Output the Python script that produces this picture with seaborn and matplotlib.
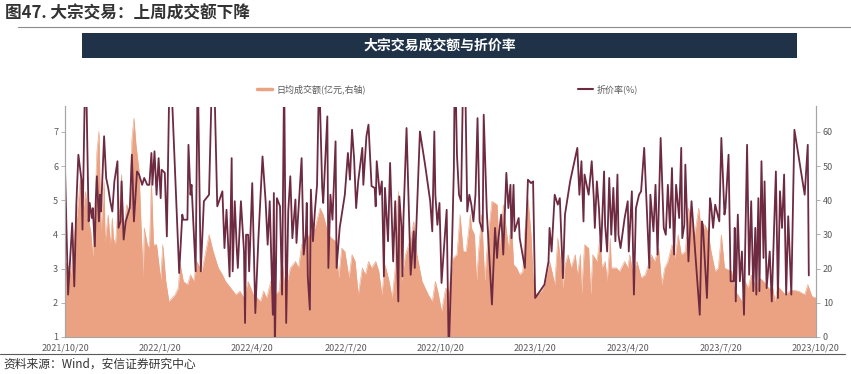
import matplotlib

matplotlib.use("Agg")
import matplotlib.pyplot as plt
from matplotlib.lines import Line2D
from matplotlib.patches import Rectangle
import pandas as pd
import seaborn as sns

# ---- data ----
start_date = "2021-10-20"

# discount rate (%), left axis; day = calendar days after start_date
line_day = [
    0, 3, 7, 9, 11, 13, 16, 17, 20, 23, 24, 26, 27, 29, 30, 31, 33, 34, 35, 38,
    40, 42, 44, 46, 48, 51, 52, 54, 55, 57, 59, 60, 63, 65, 67, 70, 72, 75, 77, 80,
    82, 84, 85, 87, 89, 91, 93, 94, 97, 99, 102, 107, 111, 114, 115, 119, 120, 122, 123, 127,
    129, 131, 132, 135, 140, 144, 148, 153, 155, 157, 160, 162, 163, 165, 167, 168, 171, 174, 175, 176,
    178, 179, 182, 185, 188, 190, 192, 195, 197, 199, 202, 203, 204, 206, 209, 211, 213, 215, 217, 219,
    221, 224, 225, 230, 232, 234, 235, 236, 238, 239, 241, 243, 245, 247, 250, 251, 255, 256, 258, 260,
    263, 264, 267, 272, 275, 277, 279, 281, 283, 285, 289, 290, 293, 295, 298, 301, 302, 303, 306, 308,
    310, 311, 314, 316, 319, 321, 324, 325, 327, 328, 329, 332, 336, 339, 340, 345, 350, 355, 357, 359,
    360, 362, 364, 366, 371, 373, 376, 378, 379, 381, 383, 385, 388, 391, 393, 395, 397, 399, 401, 403,
    406, 407, 410, 415, 418, 420, 421, 424, 426, 429, 431, 433, 434, 436, 437, 441, 442, 447, 450, 453,
    455, 457, 466, 470, 471, 473, 476, 479, 481, 484, 486, 491, 498, 500, 502, 504, 505, 509, 512, 514,
    515, 517, 519, 521, 524, 525, 527, 529, 531, 533, 535, 537, 538, 540, 544, 547, 548, 551, 553, 555,
    558, 560, 563, 568, 569, 572, 574, 576, 579, 582, 584, 586, 588, 590, 592, 594, 597, 599, 600, 602,
    603, 606, 609, 617, 619, 620, 624, 627, 628, 630, 632, 636, 638, 641, 642, 645, 647, 650, 651, 652,
    654, 656, 658, 660, 663, 665, 667, 669, 671, 672, 674, 675, 677, 679, 680, 682, 685, 687, 691, 693,
    695, 697, 699, 701, 703, 706, 709, 719, 722, 723,
]
line_pct = [
    5.94, 2.24, 4.33, 2.48, 4.87, 6.33, 5.60, 4.14, 9.50, 4.38, 4.92, 4.48, 4.77, 3.65, 5.06, 5.70, 4.38, 5.16, 4.67, 6.87,
    5.65, 5.36, 4.97, 4.67, 5.55, 6.14, 4.19, 4.38, 5.55, 3.85, 4.38, 4.48, 4.77, 6.33, 4.38, 5.84, 5.75, 5.45, 5.65, 5.45,
    5.45, 6.38, 5.45, 6.43, 5.16, 6.23, 5.06, 5.89, 5.80, 3.94, 9.50, 5.84, 2.87, 4.58, 4.43, 4.43, 6.62, 5.16, 5.45, 2.92,
    9.00, 4.77, 2.92, 4.97, 5.16, 10.0, 4.82, 5.26, 3.60, 4.72, 2.77, 6.23, 2.92, 4.97, 3.55, 3.02, 4.97, 3.50, 1.41, 3.99,
    3.99, 2.92, 5.50, 1.70, 3.89, 5.06, 6.28, 4.97, 3.70, 4.97, 1.65, 5.21, 0.50, 5.06, 4.82, 2.24, 8.80, 1.41, 4.67, 5.70,
    3.89, 5.02, 3.75, 6.23, 3.41, 3.99, 4.92, 2.77, 1.80, 5.31, 3.80, 4.72, 5.45, 8.80, 5.36, 4.92, 7.45, 3.02, 5.16, 4.43,
    6.72, 3.02, 4.19, 5.16, 6.38, 5.60, 7.06, 6.23, 4.77, 5.55, 6.53, 5.45, 6.87, 7.21, 5.41, 5.36, 4.82, 6.14, 5.16, 5.55,
    2.77, 5.36, 3.80, 6.09, 3.21, 4.97, 2.04, 5.11, 4.24, 2.77, 4.48, 7.11, 2.82, 4.09, 3.02, 7.01, 6.04, 4.97, 4.09, 7.01,
    5.16, 4.28, 4.92, 2.58, 4.72, 0.50, 3.41, 5.94, 9.50, 6.33, 5.16, 4.97, 10.5, 4.67, 5.16, 4.87, 4.38, 5.16, 7.40, 4.38,
    4.09, 7.50, 4.67, 1.95, 4.19, 3.31, 3.80, 4.58, 3.41, 5.80, 4.77, 5.45, 3.89, 5.45, 4.09, 4.48, 3.89, 3.02, 5.60, 5.50,
    5.55, 2.14, 2.53, 3.21, 4.19, 3.50, 5.16, 4.87, 5.06, 2.72, 4.58, 5.55, 6.53, 5.16, 6.14, 4.38, 5.75, 5.16, 6.14, 5.06,
    4.19, 5.55, 4.77, 3.50, 5.84, 4.28, 3.50, 5.65, 3.99, 5.36, 3.80, 5.75, 3.99, 3.60, 4.48, 4.97, 3.50, 5.26, 2.24, 4.77,
    5.16, 5.26, 6.53, 3.02, 5.16, 4.09, 5.45, 3.41, 6.82, 4.19, 3.99, 5.45, 4.19, 5.94, 3.41, 5.45, 4.48, 6.53, 3.89, 4.28,
    6.04, 3.21, 4.97, 1.65, 4.38, 4.28, 2.14, 5.06, 4.87, 4.19, 4.87, 4.38, 6.82, 4.58, 4.77, 6.33, 2.63, 2.63, 4.19, 2.04,
    4.58, 2.63, 3.50, 1.65, 6.62, 2.82, 4.97, 2.34, 4.19, 2.24, 5.06, 2.34, 6.14, 3.31, 5.55, 2.43, 3.50, 2.04, 5.84, 2.14,
    5.26, 4.19, 5.75, 2.24, 4.53, 2.24, 7.06, 5.16, 6.62, 2.80,
]

# daily average turnover (100m yuan), right axis
area_day = [
    0, 4, 6, 8, 12, 15, 17, 20, 22, 25, 27, 29, 31, 33, 35, 38, 39, 42, 44, 46,
    47, 49, 51, 53, 55, 57, 60, 63, 65, 67, 69, 72, 74, 76, 77, 80, 82, 84, 86, 89,
    93, 95, 98, 101, 107, 110, 112, 115, 119, 122, 125, 128, 133, 140, 144, 149, 153, 156, 166, 170,
    174, 178, 183, 187, 190, 193, 196, 200, 204, 208, 211, 214, 219, 224, 227, 230, 234, 238, 243, 248,
    251, 256, 259, 263, 266, 269, 272, 276, 279, 282, 285, 289, 292, 295, 298, 302, 305, 308, 311, 315,
    318, 321, 324, 327, 331, 336, 339, 342, 347, 353, 357, 360, 363, 366, 370, 373, 377, 381, 384, 387,
    390, 394, 395, 398, 400, 402, 405, 408, 410, 411, 415, 420, 421, 423, 426, 428, 431, 434, 436, 439,
    442, 445, 447, 450, 453, 455, 458, 463, 466, 471, 474, 476, 479, 481, 484, 486, 489, 492, 496, 498,
    501, 502, 505, 509, 511, 513, 517, 520, 522, 525, 527, 530, 531, 536, 539, 544, 547, 549, 552, 556,
    560, 564, 570, 573, 577, 580, 583, 586, 590, 593, 596, 599, 603, 606, 609, 612, 616, 619, 622, 625,
    628, 632, 635, 638, 641, 648, 651, 654, 658, 661, 664, 667, 672, 675, 679, 684, 688, 690, 693, 700,
    706, 713, 719, 722, 726, 730,
]
area_amt = [
    22.1, 20.2, 18.2, 27.0, 36.7, 46.5, 35.7, 42.6, 35.7, 30.9, 23.6, 37.7, 54.3, 60.1, 30.9, 45.5, 28.0, 35.7, 27.0, 34.8,
    28.9, 27.0, 35.7, 38.7, 47.5, 30.9, 38.7, 36.7, 57.7, 64.0, 56.2, 48.4, 31.9, 17.3, 31.9, 27.0, 26.0, 45.5, 27.0, 27.0,
    16.8, 27.0, 16.3, 10.4, 12.4, 14.3, 21.2, 16.3, 15.3, 18.2, 16.3, 22.1, 19.2, 29.9, 25.0, 20.2, 18.2, 16.3, 12.4, 13.4,
    11.4, 16.3, 12.4, 11.4, 10.4, 13.4, 11.4, 16.3, 12.4, 13.4, 22.6, 13.4, 20.2, 22.1, 20.2, 27.0, 28.9, 29.9, 31.9, 37.7,
    35.7, 29.9, 28.9, 28.0, 17.3, 26.0, 25.0, 17.3, 24.1, 22.1, 12.4, 20.2, 18.2, 22.1, 20.2, 22.1, 19.2, 12.4, 21.2, 16.3,
    11.4, 20.2, 42.6, 16.3, 24.1, 28.9, 33.8, 24.1, 16.3, 12.4, 10.4, 16.3, 12.4, 7.5, 14.3, 13.4, 23.0, 24.1, 35.8, 25.0,
    25.0, 35.8, 31.9, 29.9, 16.3, 25.0, 35.8, 16.3, 25.0, 28.9, 39.7, 38.7, 31.9, 26.0, 38.7, 33.8, 26.0, 33.8, 21.2, 20.2,
    18.2, 19.2, 30.9, 40.6, 29.9, 17.3, 12.4, 13.4, 15.3, 22.1, 18.2, 15.3, 28.9, 24.1, 14.3, 21.2, 24.1, 20.2, 24.1, 18.2,
    24.1, 12.4, 27.0, 26.0, 12.4, 24.1, 22.1, 28.9, 20.2, 22.1, 16.3, 28.9, 20.2, 20.2, 19.2, 22.1, 20.2, 24.1, 18.2, 22.1,
    17.3, 18.2, 24.1, 22.1, 26.0, 15.3, 20.2, 22.1, 27.0, 23.1, 29.9, 24.1, 25.0, 37.7, 33.8, 29.9, 37.7, 29.9, 32.8, 30.8,
    25.0, 19.2, 20.2, 29.9, 20.2, 19.2, 13.4, 12.4, 10.4, 16.3, 14.3, 18.2, 14.3, 17.3, 16.3, 14.3, 14.3, 10.4, 14.8, 12.4,
    13.8, 13.4, 12.4, 15.3, 11.9, 11.4,
]

xtick_labels = [
    "2021/10/20", "2022/1/20", "2022/4/20", "2022/7/20", "2022/10/20",
    "2023/1/20", "2023/4/20", "2023/7/20", "2023/10/20",
]
pct_ticks = [1, 2, 3, 4, 5, 6, 7]
amt_ticks = [0, 10, 20, 30, 40, 50, 60]

title = "图47. 大宗交易：上周成交额下降"
banner = "大宗交易成交额与折价率"
legend_amt = "日均成交额(亿元,右轴)"
legend_pct = "折价率(%)"
source = "资料来源：Wind，安信证券研究中心"

AREA_C = "#EBA283"
LINE_C = "#6D2A40"
GRID_C = "#A6A6A6"
TEXT_C = "#595959"

sns.set_style("white")
plt.rcParams["font.family"] = ["Noto Sans CJK SC", "DejaVu Sans"]

base = pd.Timestamp(start_date)
line_dates = base + pd.to_timedelta(line_day, unit="D")
area_dates = base + pd.to_timedelta(area_day, unit="D")
tick_dates = pd.to_datetime(xtick_labels)

W, H = 851, 374
fig = plt.figure(figsize=(W / 100, H / 100), dpi=100)

# area on the base axes (right ticks), line on the twin (left ticks) so it sits on top
ax_amt = fig.add_axes([65 / W, 1 - 337 / H, 751 / W, 230.5 / H])
ax_amt.fill_between(area_dates, 0, area_amt, color=AREA_C, lw=0)
sns.lineplot(x=area_dates, y=area_amt, ax=ax_amt, estimator=None, color=AREA_C, lw=0.4)
ax_amt.set_ylim(0, 67.4)
ax_amt.set_yticks(amt_ticks)
ax_amt.set_xlim(tick_dates[0], tick_dates[-1])
ax_amt.set_xticks(tick_dates)
ax_amt.set_xticklabels(xtick_labels)

ax_pct = ax_amt.twinx()
sns.lineplot(x=line_dates, y=line_pct, ax=ax_pct, estimator=None, color=LINE_C, lw=1.3)
ax_pct.set_ylim(1, 7.74)
ax_pct.set_yticks(pct_ticks)
# twinx puts the base axis ticks on the left; swap them
ax_amt.yaxis.tick_right()
ax_pct.yaxis.tick_left()

for a in (ax_amt, ax_pct):
    a.set_xlabel("")
    a.set_ylabel("")
    a.spines["top"].set_visible(False)
    for s in ("left", "right", "bottom"):
        a.spines[s].set_color(GRID_C)
        a.spines[s].set_linewidth(0.8)
    a.tick_params(axis="both", length=3, width=0.6, color=GRID_C,
                  labelsize=6.5, labelcolor=TEXT_C, pad=2)
ax_pct.spines["bottom"].set_visible(False)

# header, banner, legend and footer
fig.text(5 / W, 1 - 13 / H, title, fontsize=12, fontweight="bold", color="#333333", va="center")
fig.add_artist(Line2D([18 / W, 1.0], [1 - 27 / H] * 2, color="#8C8C8C", lw=0.8))
fig.add_artist(Rectangle((82 / W, 1 - 58 / H), 715 / W, 25 / H, color="#1F3247", lw=0))
fig.text(439.5 / W, 1 - 45.5 / H, banner, fontsize=10, fontweight="bold", color="white",
         ha="center", va="center")

fig.add_artist(Line2D([257 / W, 272 / W], [1 - 89 / H] * 2, color=AREA_C, lw=2.5))
fig.text(276 / W, 1 - 89 / H, legend_amt, fontsize=6.5, color=TEXT_C, va="center")
fig.add_artist(Line2D([578 / W, 593 / W], [1 - 89 / H] * 2, color=LINE_C, lw=1.5))
fig.text(597 / W, 1 - 89 / H, legend_pct, fontsize=6.5, color=TEXT_C, va="center")

fig.add_artist(Line2D([0.0, 845 / W], [1 - 354 / H] * 2, color="#595959", lw=0.8))
fig.text(3 / W, 1 - 364 / H, source, fontsize=8.5, color="#333333", va="center", style="italic")

fig.savefig("out.png", dpi=100)
